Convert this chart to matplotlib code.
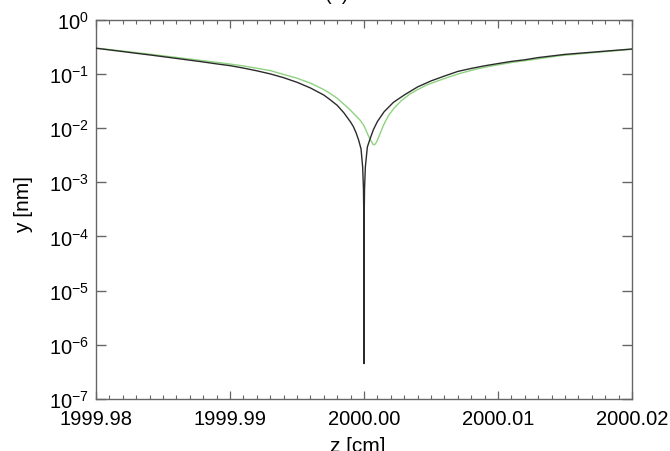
import matplotlib
matplotlib.use("Agg")
import matplotlib.pyplot as plt
from matplotlib.ticker import FixedLocator, MultipleLocator, FuncFormatter, NullLocator
import numpy as np

plt.rcParams['font.family'] = ['Liberation Sans', 'DejaVu Sans']
plt.rcParams['mathtext.fontset'] = 'custom'
plt.rcParams['mathtext.rm'] = 'Liberation Sans'
plt.rcParams['mathtext.it'] = 'Liberation Sans'
plt.rcParams['mathtext.default'] = 'regular'

# ---- data ----
z_black = [1999.980, 1999.981, 1999.982, 1999.983, 1999.984, 1999.985, 1999.986,
           1999.987, 1999.988, 1999.989, 1999.990, 1999.991, 1999.992, 1999.993,
           1999.994, 1999.995, 1999.996, 1999.997, 1999.9974, 1999.998, 1999.9985,
           1999.999, 1999.9992, 1999.9994, 1999.9996, 1999.99978, 1999.9999,
           1999.99996, 1999.99999, 2000.0,
           2000.00001, 2000.00004, 2000.0001, 2000.00025, 2000.00045, 2000.0007,
           2000.001, 2000.0015, 2000.0022, 2000.003, 2000.004, 2000.005, 2000.006,
           2000.007, 2000.008, 2000.009, 2000.010, 2000.011, 2000.012, 2000.013,
           2000.014, 2000.015, 2000.016, 2000.017, 2000.018, 2000.019, 2000.020]
y_black = [0.297, 0.277, 0.258, 0.240, 0.224, 0.208, 0.193,
           0.179, 0.166, 0.153, 0.142, 0.128, 0.114, 0.100,
           0.0851, 0.0700, 0.0550, 0.0407, 0.0344, 0.0263, 0.0191,
           0.0129, 0.0107, 0.0083, 0.0060, 0.0041, 0.0019,
           7.6e-4, 1.9e-4, 4.5e-7,
           1.9e-4, 7.6e-4, 0.0019, 0.00447, 0.0063, 0.00933,
           0.0132, 0.0200, 0.0299, 0.0407, 0.0575, 0.0741, 0.0912,
           0.111, 0.126, 0.141, 0.155, 0.170, 0.182, 0.200,
           0.214, 0.229, 0.240, 0.251, 0.263, 0.275, 0.288]

z_green = [1999.980, 1999.982, 1999.984, 1999.986, 1999.988, 1999.990, 1999.991,
           1999.992, 1999.993, 1999.994, 1999.995, 1999.996, 1999.997, 1999.9974,
           1999.998, 1999.9985, 1999.9989, 1999.9993, 1999.9997, 2000.0,
           2000.0002, 2000.0004, 2000.00058, 2000.00068, 2000.00075, 2000.00085,
           2000.00095, 2000.00107, 2000.0012, 2000.00144, 2000.0018, 2000.00219,
           2000.0028, 2000.00343, 2000.004, 2000.00468, 2000.0055, 2000.0063,
           2000.00716, 2000.0084, 2000.00965, 2000.011, 2000.0125, 2000.01463,
           2000.017, 2000.020]
y_green = [0.300, 0.264, 0.231, 0.201, 0.175, 0.152, 0.140,
           0.127, 0.115, 0.0977, 0.0832, 0.0676, 0.0513, 0.0447,
           0.0355, 0.0275, 0.0225, 0.0178, 0.0141, 0.0110,
           0.0085, 0.0066, 0.0055, 0.0050, 0.0049, 0.0051,
           0.0056, 0.0066, 0.0079, 0.0111, 0.0166, 0.0225,
           0.0324, 0.0426, 0.0513, 0.0624, 0.0741, 0.0871,
           0.102, 0.123, 0.142, 0.162, 0.182, 0.217,
           0.245, 0.284]

x_ticks = [1999.98, 1999.99, 2000.00, 2000.01, 2000.02]
y_ticks = [1e-7, 1e-6, 1e-5, 1e-4, 1e-3, 1e-2, 1e-1, 1e0]
title_text = "(a)"
xlabel_text = "z [cm]"
ylabel_text = "y [nm]"

W, H = 670, 452
fig = plt.figure(figsize=(W / 100, H / 100), dpi=100)
ax = fig.add_axes([96 / W, 1 - 400 / H, (632 - 96) / W, (400 - 20.7) / H])

ax.plot(z_green, y_green, color='#8fd27f', lw=1.0, zorder=2)
ax.plot(z_black, y_black, color='#2b2b2b', lw=1.0, zorder=3)

ax.set_yscale('log')
ax.set_xlim(1999.98, 2000.02)
ax.set_ylim(1e-7, 1e0)

ax.xaxis.set_major_locator(FixedLocator(x_ticks))
ax.xaxis.set_minor_locator(MultipleLocator(0.001))
ax.xaxis.set_major_formatter(FuncFormatter(lambda v, p: f"{v:.2f}"))
ax.yaxis.set_major_locator(FixedLocator(y_ticks))
ax.yaxis.set_minor_locator(NullLocator())
ax.yaxis.set_major_formatter(FuncFormatter(lambda v, p: f"10$^{{{int(round(np.log10(v)))}}}$"))

spine_col = '#666666'
for s in ax.spines.values():
    s.set_color(spine_col)
    s.set_linewidth(1.0)

ax.tick_params(axis='both', which='both', direction='in', top=True, right=True,
               color=spine_col, labelsize=14.5, labelcolor='black')
ax.tick_params(axis='x', which='major', length=5.5, width=0.9, pad=7.5)
ax.tick_params(axis='x', which='minor', length=3, width=0.8)
ax.tick_params(axis='y', which='major', length=7.5, width=1.0, pad=5)

fig.text(337 / W, 1.0, title_text, ha='center', va='baseline', fontsize=14.5)
fig.text(358 / W, 1 - 437 / H, xlabel_text, ha='center', va='top', fontsize=15)
fig.text(24 / W, 1 - 205 / H, ylabel_text, ha='center', va='center',
         rotation=90, fontsize=15)

fig.savefig('out.png', dpi=100)
